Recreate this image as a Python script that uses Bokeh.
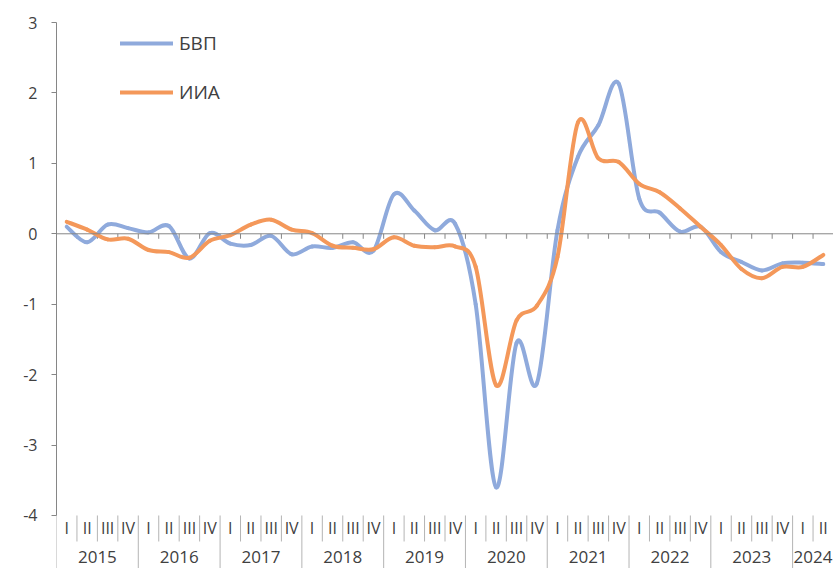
import numpy as np
from bokeh.plotting import figure
from bokeh.models import Range1d, ColumnDataSource, Legend, LegendItem, Span, FixedTicker
from bokeh.core.properties import value
from bokeh.embed import file_html
from bokeh.resources import INLINE

# ---------------- data ----------------
years = ["2015", "2016", "2017", "2018", "2019", "2020", "2021", "2022", "2023", "2024"]
quarters_per_year = [4, 4, 4, 4, 4, 4, 4, 4, 4, 2]
quarter_names = ["I", "II", "III", "IV"]
series_names = ["БВП", "ИИА"]

bvp = [0.10, -0.12, 0.13, 0.08,
       0.02, 0.11, -0.35, 0.01,
       -0.14, -0.16, -0.03, -0.29,
       -0.18, -0.20, -0.12, -0.24,
       0.56, 0.33, 0.05, 0.14,
       -1.00, -3.60, -1.55, -2.12,
       0.05, 1.09, 1.54, 2.13,
       0.50, 0.30, 0.03, 0.10,
       -0.26, -0.40, -0.52, -0.42,
       -0.41, -0.43]

iia = [0.17, 0.06, -0.08, -0.07,
       -0.23, -0.26, -0.34, -0.10,
       -0.02, 0.13, 0.20, 0.06,
       0.01, -0.17, -0.20, -0.22,
       -0.05, -0.17, -0.19, -0.18,
       -0.47, -2.15, -1.23, -1.02,
       -0.33, 1.58, 1.07, 1.02,
       0.71, 0.59, 0.36, 0.10,
       -0.16, -0.50, -0.63, -0.47,
       -0.47, -0.30]

y_ticks = [-4, -3, -2, -1, 0, 1, 2, 3]

# ---------------- styling constants ----------------
FONT = "Open Sans"
TEXT_COLOR = "#404040"
AXIS_COLOR = "#868686"
SEP_COLOR = "#b4b4b4"
BLUE = "#8FAADC"
ORANGE = "#F4985A"

W, H = 833, 568
n = len(bvp)
xs = list(range(n))
qlabels = [quarter_names[j] for q in quarters_per_year for j in range(q)]
year_starts = [int(s) for s in np.cumsum([0] + quarters_per_year[:-1])]
year_centers = [s + q / 2 - 0.5 for s, q in zip(year_starts, quarters_per_year)]

PX = 70.4  # pixels per y unit
Y_TOP = 3 + 22 / PX
Y_BOT = -4 - (H - 515) / PX
Y_QLAB = -4 - 12.5 / PX
Y_YLAB = -4 - 42 / PX
Y_QSEP = -4 - 26 / PX
Y_TICK = -5 / PX


def bezier_source(vals):
    v = np.asarray(vals, dtype=float)
    x = np.arange(len(v), dtype=float)
    vp = np.concatenate([[v[0]], v, [v[-1]]])
    xp = np.concatenate([[x[0]], x, [x[-1]]])
    m = len(v) - 1
    i = np.arange(m)
    return ColumnDataSource(dict(
        x0=x[:-1], y0=v[:-1], x1=x[1:], y1=v[1:],
        cx0=x[:-1] + (xp[i + 2] - xp[i]) / 6.0,
        cy0=v[:-1] + (vp[i + 2] - vp[i]) / 6.0,
        cx1=x[1:] - (xp[i + 3] - xp[i + 1]) / 6.0,
        cy1=v[1:] - (vp[i + 3] - vp[i + 1]) / 6.0,
    ))


p = figure(width=W, height=H,
           x_range=Range1d(-0.5, n - 0.5), y_range=Range1d(Y_BOT, Y_TOP),
           output_backend="svg", toolbar_location=None, x_axis_location=None,
           min_border_left=56, min_border_right=0, min_border_top=0, min_border_bottom=0)
p.outline_line_color = None
p.grid.visible = False
p.background_fill_color = "white"

# y axis
ya = p.yaxis[0]
ya.ticker = FixedTicker(ticks=y_ticks)
ya.bounds = (-4, 3)
ya.axis_line_color = AXIS_COLOR
ya.major_tick_line_color = AXIS_COLOR
ya.major_tick_out = 5
ya.major_tick_in = 0
ya.minor_tick_line_color = None
ya.major_label_standoff = 14
ya.major_label_text_font = FONT
ya.major_label_text_font_size = "16px"
ya.major_label_text_color = TEXT_COLOR
ya.major_label_overrides = {t: str(t) for t in y_ticks}

# zero line with quarter ticks
p.add_layout(Span(location=0, dimension="width", line_color=AXIS_COLOR, line_width=1))
tick_x = [k - 0.5 for k in range(1, n + 1)]
p.segment(x0=tick_x, y0=[0] * len(tick_x), x1=tick_x, y1=[Y_TICK] * len(tick_x),
          line_color=AXIS_COLOR, line_width=1)

# category separators
q_sep = [k - 0.5 for k in range(1, n) if k not in year_starts]
p.segment(x0=q_sep, y0=[-4] * len(q_sep), x1=q_sep, y1=[Y_QSEP] * len(q_sep),
          line_color=SEP_COLOR, line_width=1)
y_sep = [s - 0.5 for s in year_starts]
p.segment(x0=y_sep, y0=[-4] * len(y_sep), x1=y_sep, y1=[Y_BOT] * len(y_sep),
          line_color=SEP_COLOR, line_width=1)

# category labels
p.text(x=xs, y=[Y_QLAB] * n, text=qlabels, text_font=value(FONT), text_font_size="16px",
       text_color=TEXT_COLOR, text_align="center", text_baseline="middle")
p.text(x=year_centers, y=[Y_YLAB] * len(years), text=years, text_font=value(FONT),
       text_font_size="17px", text_color=TEXT_COLOR, text_align="center", text_baseline="middle")

# series
r_bvp = p.bezier(x0="x0", y0="y0", x1="x1", y1="y1", cx0="cx0", cy0="cy0", cx1="cx1", cy1="cy1",
                 source=bezier_source(bvp), line_color=BLUE, line_width=4, line_cap="round")
r_iia = p.bezier(x0="x0", y0="y0", x1="x1", y1="y1", cx0="cx0", cy0="cy0", cx1="cx1", cy1="cy1",
                 source=bezier_source(iia), line_color=ORANGE, line_width=4, line_cap="round")

legend = Legend(items=[LegendItem(label=series_names[0], renderers=[r_bvp]),
                       LegendItem(label=series_names[1], renderers=[r_iia])],
                location=(64, H - 105), orientation="vertical",
                glyph_width=53, glyph_height=20, label_height=20, spacing=23,
                padding=0, margin=0, label_standoff=6,
                label_text_font=FONT, label_text_font_size="19px", label_text_color=TEXT_COLOR,
                border_line_color=None, background_fill_alpha=0)
p.add_layout(legend, "center")

open("out.html", "w").write(file_html(p, INLINE))
